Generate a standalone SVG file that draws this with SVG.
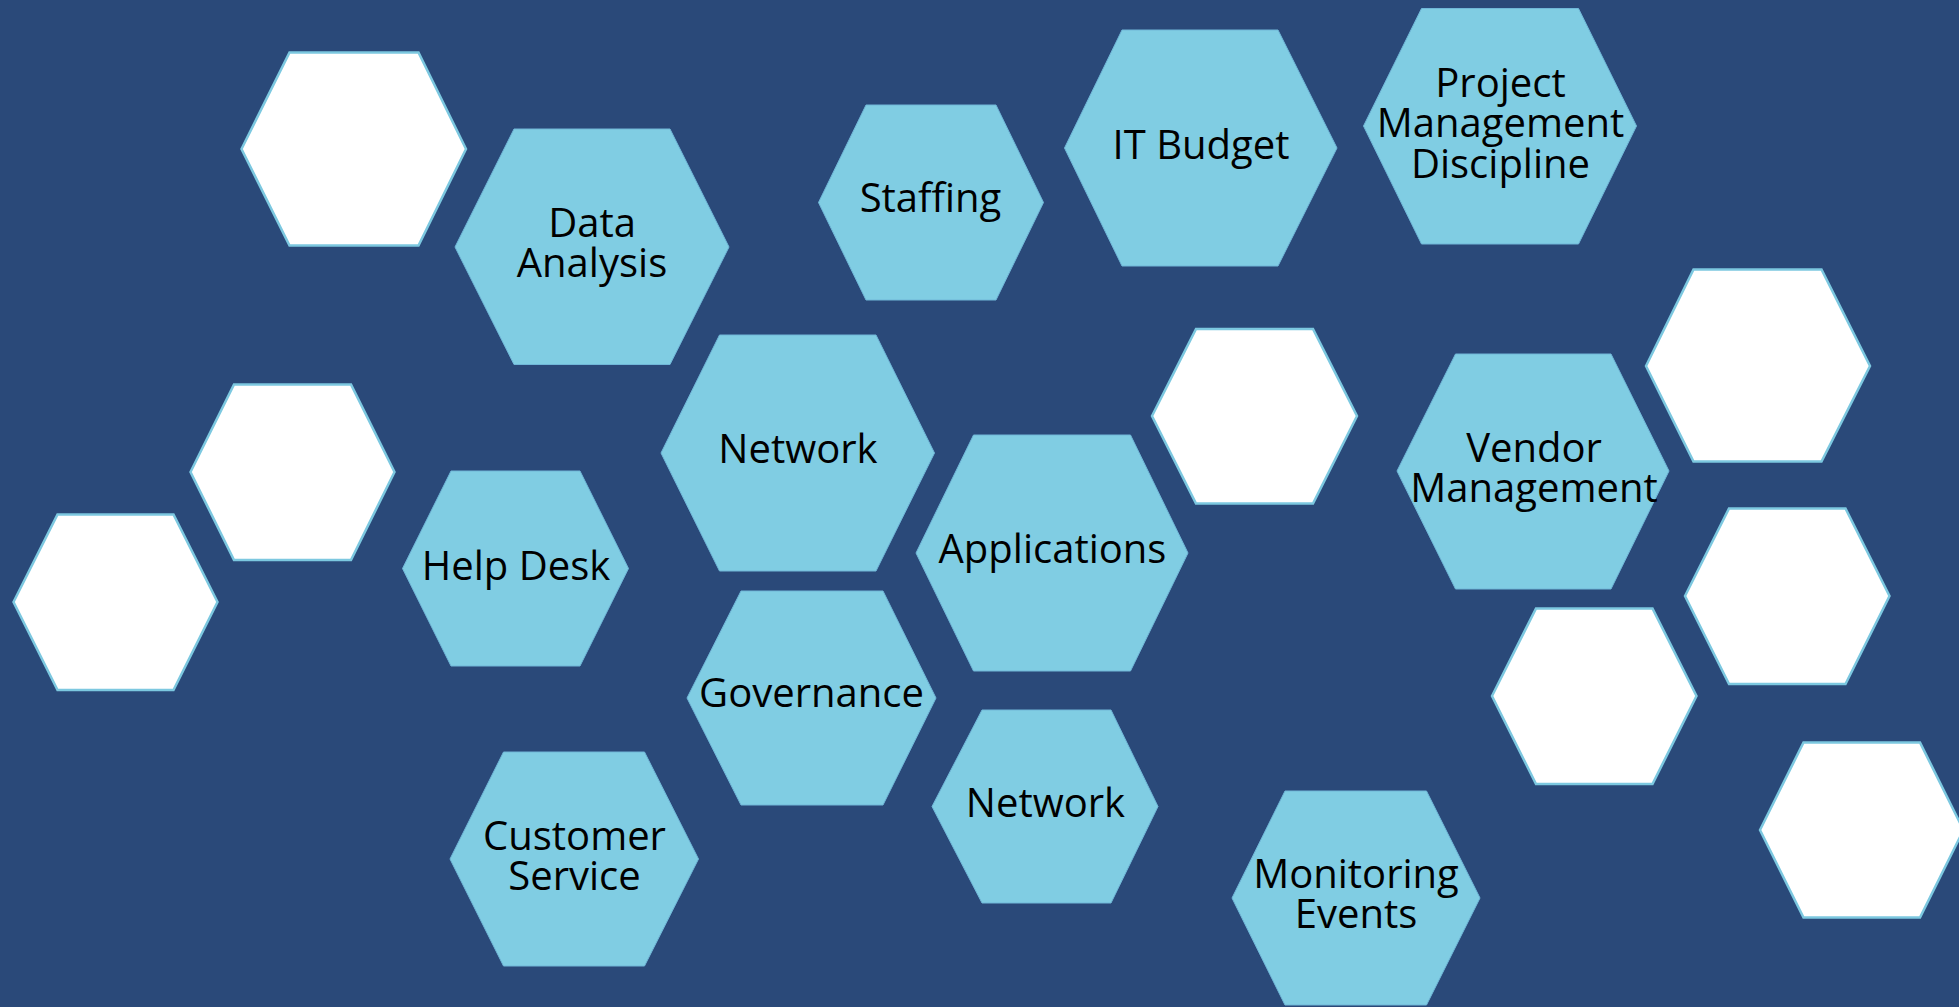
<svg xmlns="http://www.w3.org/2000/svg" width="1959" height="1007" viewBox="0 0 1959 1007">
  <style>
    .hex { fill: #80CDE3; stroke: #70B7D8; stroke-width: 1; }
    .blank { fill: #FFFFFF; stroke: #7CC8E0; stroke-width: 2.5; }
    .label { font-family: "Open Sans", "Noto Sans", "Liberation Sans", sans-serif; font-size: 40px; fill: #000000; text-anchor: middle; }
  </style>
  <rect x="0" y="0" width="1959" height="1007" fill="#2A4979"/>

  <!-- empty tiles -->
  <g id="blank-1"><polygon class="blank" points="241.5,149 289.5,52.5 418.5,52.5 466,149 418.5,245.5 289.5,245.5"/></g>
  <g id="blank-2"><polygon class="blank" points="1646,366 1693.5,269.5 1821.5,269.5 1870,366 1821.5,461.5 1693.5,461.5"/></g>
  <g id="blank-3"><polygon class="blank" points="1152,416 1196,329 1313,329 1357,416 1313,503.5 1196,503.5"/></g>
  <g id="blank-4"><polygon class="blank" points="190.5,472 234,384.5 351,384.5 394.5,472 351,560 234,560"/></g>
  <g id="blank-5"><polygon class="blank" points="13.5,602 57.5,514.5 173.5,514.5 217.5,602 173.5,690 57.5,690"/></g>
  <g id="blank-6"><polygon class="blank" points="1685,596 1729,508.5 1845.5,508.5 1889.5,596 1845.5,684 1729,684"/></g>
  <g id="blank-7"><polygon class="blank" points="1492,696 1536,608.5 1652.5,608.5 1696.5,696 1652.5,784 1536,784"/></g>
  <g id="blank-8"><polygon class="blank" points="1760,830 1803.5,742.5 1920,742.5 1963.5,830 1920,917.5 1803.5,917.5"/></g>

  <!-- labelled tiles -->
  <g id="data-analysis">
    <polygon class="hex" points="455,247 514,129 670,129 729,247 670,364.5 514,364.5"/>
    <text class="label"><tspan x="592" y="236.7">Data</tspan><tspan x="592" y="277.3">Analysis</tspan></text>
  </g>
  <g id="staffing">
    <polygon class="hex" points="818.5,202.5 866,105 996,105 1043.5,202.5 996,300 866,300"/>
    <text class="label" x="930.5" y="211.7">Staffing</text>
  </g>
  <g id="it-budget">
    <polygon class="hex" points="1064.5,148 1122,30 1278,30 1337,148 1278,266 1122,266"/>
    <text class="label" x="1201" y="159.3">IT Budget</text>
  </g>
  <g id="project-management">
    <polygon class="hex" points="1363.5,126 1421.5,8.5 1578.5,8.5 1636.5,126 1578.5,244 1421.5,244"/>
    <text class="label"><tspan x="1500.5" y="96.7">Project</tspan><tspan x="1500.5" y="137.3">Management</tspan><tspan x="1500.5" y="178.3">Discipline</tspan></text>
  </g>
  <g id="network-top">
    <polygon class="hex" points="661,453 719.5,335 876,335 934.5,453 876,571 719.5,571"/>
    <text class="label" x="798" y="463.3">Network</text>
  </g>
  <g id="vendor-management">
    <polygon class="hex" points="1397,471 1455.5,354 1611,354 1669,471 1611,589 1455.5,589"/>
    <text class="label"><tspan x="1534" y="461.7">Vendor</tspan><tspan x="1534" y="501.7">Management</tspan></text>
  </g>
  <g id="help-desk">
    <polygon class="hex" points="402.5,568.5 451,471 580,471 628.5,568.5 580,666 451,666"/>
    <text class="label" x="516" y="580">Help Desk</text>
  </g>
  <g id="applications">
    <polygon class="hex" points="916,553 973.5,435 1130.5,435 1188,553 1130.5,671 973.5,671"/>
    <text class="label" x="1052.5" y="563.3">Applications</text>
  </g>
  <g id="governance">
    <polygon class="hex" points="687,698 741,591 883,591 936,698 883,805 741,805"/>
    <text class="label" x="811.5" y="707">Governance</text>
  </g>
  <g id="customer-service">
    <polygon class="hex" points="450,859 503.5,752 644.5,752 698.5,859 644.5,966 503.5,966"/>
    <text class="label"><tspan x="574.5" y="850">Customer</tspan><tspan x="574.5" y="890">Service</tspan></text>
  </g>
  <g id="network-bottom">
    <polygon class="hex" points="932,806.5 982,710 1111,710 1158,806.5 1111,903 982,903"/>
    <text class="label" x="1045.5" y="817.3">Network</text>
  </g>
  <g id="monitoring-events">
    <polygon class="hex" points="1232,898 1285,791 1426.5,791 1480,898 1426.5,1005 1285,1005"/>
    <text class="label"><tspan x="1356" y="888.3">Monitoring</tspan><tspan x="1356" y="928.3">Events</tspan></text>
  </g>
</svg>
